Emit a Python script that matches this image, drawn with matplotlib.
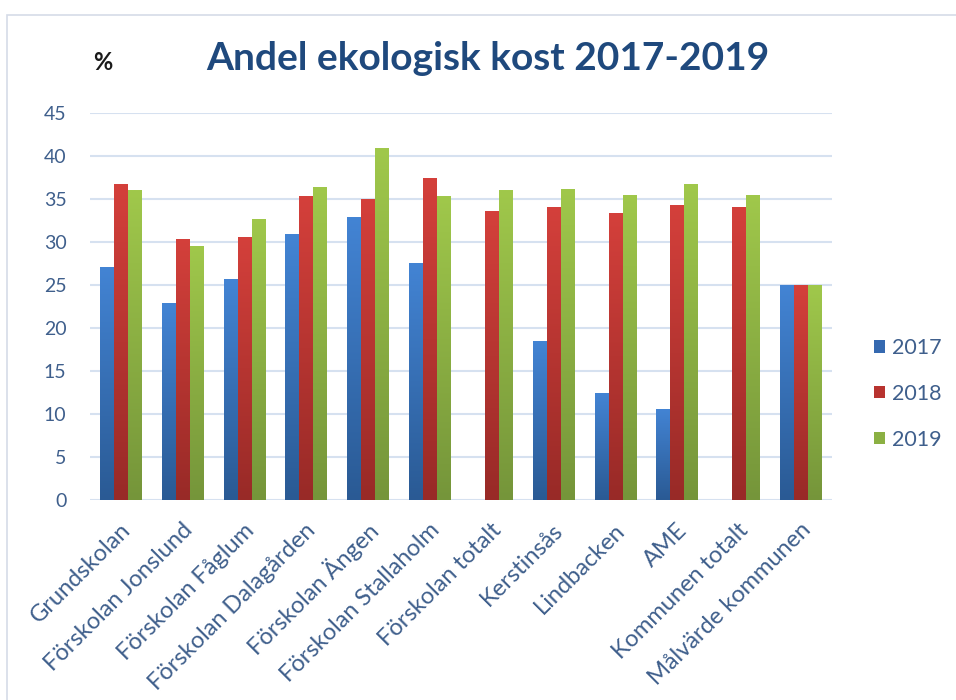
"""Andel ekologisk kost 2017-2019: grupperade staplar med gradient."""
import matplotlib
matplotlib.use("Agg")
import matplotlib.pyplot as plt
import numpy as np
from matplotlib.colors import LinearSegmentedColormap
from matplotlib.patches import Patch, Rectangle
import matplotlib.transforms as mtransforms

plt.rcParams["font.family"] = ["Lato", "DejaVu Sans"]

categories = [
    "Grundskolan", "Förskolan Jonslund", "Förskolan Fåglum",
    "Förskolan Dalagården", "Förskolan Ängen", "Förskolan Stallaholm",
    "Förskolan totalt", "Kerstinsås", "Lindbacken", "AME",
    "Kommunen totalt", "Målvärde kommunen",
]
years = ["2017", "2018", "2019"]
v2017 = [27.1, 22.9, 25.7, 30.9, 32.9, 27.6, 0, 18.5, 12.5, 10.6, 0, 25]
v2018 = [36.7, 30.4, 30.6, 35.3, 35.0, 37.4, 33.6, 34.1, 33.4, 34.3, 34.1, 25]
v2019 = [36.0, 29.5, 32.7, 36.4, 40.9, 35.3, 36.0, 36.2, 35.5, 36.7, 35.5, 25]
yticks = list(range(0, 50, 5))

# (topp, botten) för gradienten
grads = [("#4384d4", "#2a5a94"), ("#d4403b", "#982a27"), ("#a0c84b", "#75953a")]
legend_colors = ["#3569b0", "#b8332f", "#8bb043"]
text_col = "#3f5f8c"

fig = plt.figure(figsize=(9.56, 7), dpi=100)
ax = fig.add_axes([90 / 956, 1 - 500 / 700, (832 - 90) / 956, (500 - 113) / 700])

# ram runt diagrammet
fig.patches.append(Rectangle((7 / 956, -0.01), 1.0, 1 - 15 / 700 + 0.01,
                             transform=fig.transFigure, fill=False,
                             edgecolor="#d5dce8", lw=1.2))

x = np.arange(len(categories))
w = 0.226
grad_img = np.linspace(0, 1, 256).reshape(-1, 1)
for i, (vals, (top, bot)) in enumerate(zip([v2017, v2018, v2019], grads)):
    cmap = LinearSegmentedColormap.from_list(f"g{i}", [bot, top])
    bars = ax.bar(x + (i - 1) * w, vals, width=w, facecolor="none",
                  edgecolor="none", zorder=3)
    for rect in bars:
        h = rect.get_height()
        if h <= 0:
            continue
        x0 = rect.get_x()
        im = ax.imshow(grad_img, extent=[x0, x0 + rect.get_width(), 0, h],
                       origin="lower", cmap=cmap, aspect="auto", zorder=3)
        im.set_clip_path(rect)

ax.set_xlim(-0.5, len(categories) - 0.5)
ax.set_ylim(0, 45)
ax.set_yticks(yticks)
ax.set_yticklabels([str(t) for t in yticks], fontsize=14, color=text_col)
ax.grid(axis="y", color="#d6e1f0", lw=1.5, zorder=0)
ax.set_axisbelow(True)
for s in ax.spines.values():
    s.set_visible(False)
ax.tick_params(axis="both", length=0)
ax.tick_params(axis="y", pad=17)

ax.set_xticks(x)
offset = mtransforms.ScaledTranslation(6 / 100, -22 / 100, fig.dpi_scale_trans)
labels = ax.set_xticklabels(categories, rotation=45, ha="right", va="center",
                            rotation_mode="anchor", fontsize=17, color=text_col)
for lab in labels:
    lab.set_transform(lab.get_transform() + offset)

fig.text(488 / 956, 1 - 58 / 700, "Andel ekologisk kost 2017-2019",
         ha="center", va="center", fontsize=28, fontweight="bold", color="#1f497d")
fig.text(103 / 956, 1 - 63 / 700, "%", ha="center", va="center",
         fontsize=17, fontweight="bold", color="#1a1a1a")

handles = [Patch(facecolor=c, edgecolor="none") for c in legend_colors]
fig.legend(handles, years, loc="center left", bbox_to_anchor=(855 / 956, 1 - 394 / 700),
           frameon=False, fontsize=15.5, handlelength=0.5, handleheight=0.5,
           handletextpad=0.3, labelspacing=1.2, labelcolor=text_col)

fig.savefig("out.png", dpi=100)
